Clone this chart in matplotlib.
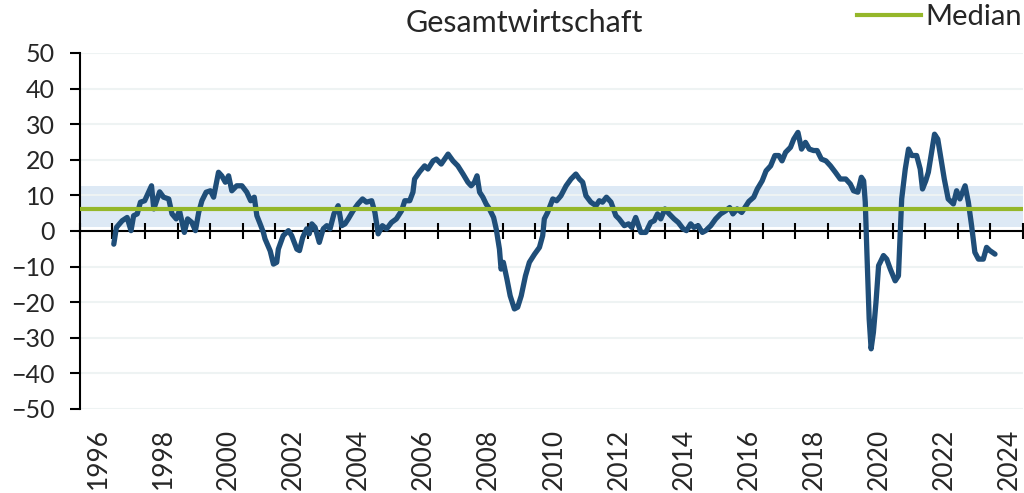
import numpy as np
import matplotlib.pyplot as plt
from matplotlib.lines import Line2D

# monthly-ish readings (decimal year, value)
years = [1996.47, 1996.55, 1996.73, 1996.88, 1997.00, 1997.08, 1997.19, 1997.29, 1997.42, 1997.54,
         1997.63, 1997.70, 1997.88, 1998.00, 1998.16, 1998.26, 1998.39, 1998.49, 1998.64, 1998.74,
         1998.87, 1998.98, 1999.08, 1999.18, 1999.31, 1999.44, 1999.54, 1999.69, 1999.79, 1999.90,
         2000.00, 2000.10, 2000.25, 2000.41, 2000.56, 2000.68, 2000.79, 2000.87, 2000.97, 2001.07,
         2001.12, 2001.28, 2001.38, 2001.48, 2001.53, 2001.68, 2001.84, 2001.94, 2002.10, 2002.18,
         2002.28, 2002.40, 2002.48, 2002.56, 2002.66, 2002.79, 2002.91, 2003.02, 2003.12, 2003.24,
         2003.37, 2003.48, 2003.58, 2003.68, 2003.83, 2003.98, 2004.12, 2004.24, 2004.40, 2004.50,
         2004.60, 2004.73, 2004.86, 2005.01, 2005.16, 2005.32, 2005.42, 2005.57, 2005.67, 2005.72,
         2005.88, 2006.03, 2006.13, 2006.29, 2006.39, 2006.54, 2006.75, 2006.90, 2007.05, 2007.21,
         2007.36, 2007.46, 2007.56, 2007.64, 2007.72, 2007.82, 2007.92, 2008.02, 2008.15, 2008.23,
         2008.33, 2008.38, 2008.45, 2008.56, 2008.66, 2008.79, 2008.89, 2009.00, 2009.13, 2009.25,
         2009.41, 2009.56, 2009.66, 2009.71, 2009.81, 2009.97, 2010.09, 2010.22, 2010.38, 2010.53,
         2010.68, 2010.79, 2010.89, 2010.99, 2011.14, 2011.30, 2011.40, 2011.50, 2011.62, 2011.76,
         2011.91, 2012.01, 2012.17, 2012.30, 2012.40, 2012.52, 2012.68, 2012.83, 2012.98, 2013.09,
         2013.19, 2013.29, 2013.42, 2013.55, 2013.70, 2013.83, 2013.98, 2014.08, 2014.21, 2014.31,
         2014.44, 2014.57, 2014.67, 2014.83, 2014.98, 2015.13, 2015.29, 2015.41, 2015.51, 2015.64,
         2015.78, 2015.88, 2016.00, 2016.15, 2016.26, 2016.41, 2016.53, 2016.67, 2016.80, 2016.92,
         2017.02, 2017.13, 2017.28, 2017.38, 2017.51, 2017.62, 2017.74, 2017.86, 2017.99, 2018.10,
         2018.23, 2018.37, 2018.51, 2018.66, 2018.81, 2018.98, 2019.12, 2019.22, 2019.35, 2019.46,
         2019.53, 2019.58, 2019.63, 2019.70, 2019.76, 2019.83, 2019.91, 2019.99, 2020.04, 2020.14,
         2020.24, 2020.35, 2020.50, 2020.60, 2020.70, 2020.81, 2020.91, 2021.01, 2021.16, 2021.27,
         2021.34, 2021.44, 2021.52, 2021.62, 2021.71, 2021.81, 2021.91, 2022.01, 2022.13, 2022.29,
         2022.39, 2022.49, 2022.65, 2022.75, 2022.85, 2022.95, 2023.06, 2023.21, 2023.31, 2023.41,
         2023.57]
values = [-3.7, 1.0, 2.9, 3.8, 0.1, 4.3, 4.8, 8.1, 8.5, 10.9,
          12.7, 6.2, 11.0, 9.5, 9.0, 4.8, 3.4, 5.7, -0.4, 3.4,
          2.4, 0.1, 5.2, 8.5, 10.9, 11.3, 9.5, 16.5, 15.5, 13.7,
          15.5, 11.3, 12.7, 12.7, 10.9, 8.5, 9.5, 4.3, 2.0, -0.4,
          -2.2, -5.6, -9.3, -8.8, -5.1, -1.3, 0.1, -1.3, -5.1, -5.5,
          -1.8, 0.6, -0.8, 2.0, 1.0, -3.2, 0.6, 1.5, 0.6, 4.8,
          7.1, 1.5, 2.0, 3.4, 5.7, 7.6, 9.0, 8.1, 8.5, 5.2,
          -0.8, 1.5, 0.6, 2.4, 3.4, 5.7, 8.5, 8.5, 10.9, 14.6,
          16.7, 18.3, 17.4, 19.7, 20.2, 18.8, 21.6, 19.7, 18.3, 16.0,
          13.7, 12.7, 13.7, 15.5, 10.9, 9.5, 7.6, 6.2, 3.8, 0.6,
          -5.1, -10.7, -8.8, -13.5, -18.2, -21.9, -21.4, -18.2, -12.6, -8.8,
          -6.5, -4.6, -1.3, 3.4, 5.2, 9.0, 8.5, 9.9, 12.7, 14.6,
          16.0, 14.6, 13.7, 9.9, 8.1, 7.1, 8.5, 8.1, 9.5, 8.1,
          4.3, 3.4, 1.5, 2.0, 1.0, 3.8, -0.4, -0.4, 2.4, 2.9,
          4.8, 3.4, 6.2, 4.8, 3.4, 2.4, 0.6, 0.1, 2.0, 1.0,
          1.5, -0.4, 0.1, 1.5, 3.4, 4.8, 5.7, 6.6, 4.8, 6.2,
          5.2, 6.6, 8.3, 9.5, 11.8, 14.1, 16.9, 18.3, 21.2, 21.2,
          19.7, 22.1, 23.5, 25.8, 27.7, 23.0, 24.9, 23.0, 22.6, 22.6,
          20.2, 19.7, 18.3, 16.5, 14.6, 14.6, 13.2, 11.3, 10.9, 15.1,
          14.1, 8.1, -6.0, -24.7, -33.1, -28.5, -20.0, -9.7, -8.8, -6.9,
          -7.9, -10.7, -14.0, -12.6, 9.0, 17.4, 23.0, 21.2, 21.2, 17.4,
          11.8, 14.1, 16.5, 22.1, 27.2, 25.8, 20.2, 14.6, 9.0, 7.6,
          11.3, 9.0, 12.7, 8.1, 1.5, -6.0, -7.9, -7.9, -4.6, -5.5,
          -6.5]

median = 6.2
band_lo, band_hi = 1.0, 12.6
label_years = list(range(1996, 2025, 2))
y_ticks = list(range(-50, 51, 10))

plt.rcParams['font.family'] = ['Lato', 'DejaVu Sans']
text_col = '#262626'

fig = plt.figure(figsize=(10.24, 4.93), dpi=100)
ax = fig.add_axes([0.0781, 0.1704, 0.9209, 0.7221])

ax.axhspan(band_lo, band_hi, color='#dde9f5', lw=0, zorder=0)
ax.plot(years, values, color='#1f4e79', lw=3.8, solid_joinstyle='round',
        solid_capstyle='round', zorder=3)
med_line = ax.axhline(median, color='#95b72a', lw=3, zorder=4, label='Median')

ax.set_xlim(1995.43, 2024.43)
ax.set_ylim(-50, 50)
ax.set_yticks(y_ticks)
ax.grid(axis='y', color='#eef3f3', lw=1.5)
ax.set_axisbelow(True)

ax.spines[['top', 'right']].set_visible(False)
ax.spines['bottom'].set_position(('data', 0))
ax.spines['bottom'].set_linewidth(1.5)
ax.spines['left'].set_linewidth(1.5)

# tick marks on the zero line, labels on a separate axis at the bottom
ax.set_xticks(np.arange(1995.43, 2024.5, 1))
ax.tick_params(axis='x', direction='inout', length=12, width=1.5, labelbottom=False)
ax.tick_params(axis='y', direction='out', length=7, width=1.5, pad=11,
               labelsize=18, labelcolor=text_col)

sec = ax.secondary_xaxis(0.0)
sec.set_xticks(label_years)
sec.tick_params(length=0, pad=14, labelsize=19, labelrotation=90, labelcolor=text_col)
sec.spines['bottom'].set_visible(False)

fig.text(0.512, 0.953, 'Gesamtwirtschaft', ha='center', va='center',
         fontsize=22, color=text_col)

ax.legend(handles=[med_line], loc='center right', bbox_to_anchor=(0.998, 0.965),
          bbox_transform=fig.transFigure, frameon=False, fontsize=21,
          handlelength=2.2, handletextpad=0.15, borderaxespad=0, borderpad=0,
          labelcolor=text_col)

fig.savefig('out.png', dpi=100)
